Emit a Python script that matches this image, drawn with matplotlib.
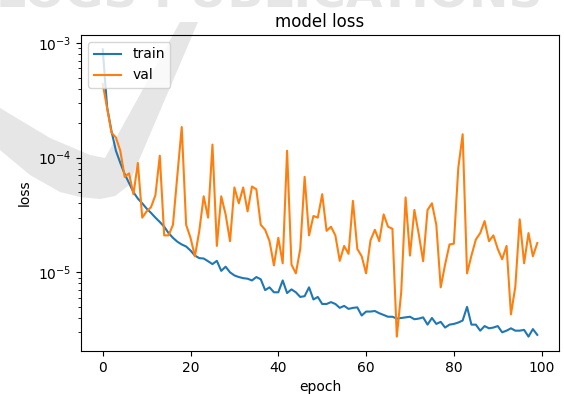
import numpy as np
import matplotlib
matplotlib.use('Agg')
import matplotlib.pyplot as plt
from matplotlib.patches import Polygon

# loss values, one per epoch (0..99)
train_loss = [
    8.8e-4, 2.75e-4, 1.7e-4, 1.15e-4, 9.0e-5, 7.2e-5, 6.0e-5, 5.0e-5, 4.4e-5, 4.0e-5,
    3.6e-5, 3.3e-5, 3.0e-5, 2.75e-5, 2.5e-5, 2.2e-5, 2.0e-5, 1.85e-5, 1.75e-5, 1.68e-5,
    1.55e-5, 1.4e-5, 1.33e-5, 1.32e-5, 1.25e-5, 1.18e-5, 1.26e-5, 1.03e-5, 1.12e-5, 1.0e-5,
    9.4e-6, 9.1e-6, 8.9e-6, 8.8e-6, 8.5e-6, 9.1e-6, 8.7e-6, 7.0e-6, 7.4e-6, 6.7e-6,
    6.7e-6, 8.5e-6, 6.6e-6, 7.1e-6, 6.7e-6, 6.1e-6, 6.2e-6, 7.4e-6, 5.8e-6, 6.1e-6,
    5.3e-6, 5.3e-6, 5.5e-6, 5.3e-6, 4.9e-6, 5.1e-6, 4.8e-6, 4.9e-6, 4.95e-6, 4.2e-6,
    4.55e-6, 4.55e-6, 4.6e-6, 4.4e-6, 4.25e-6, 4.1e-6, 4.1e-6, 3.95e-6, 4.0e-6, 4.05e-6,
    4.1e-6, 3.9e-6, 3.95e-6, 4.05e-6, 3.5e-6, 4.0e-6, 3.55e-6, 3.7e-6, 3.3e-6, 3.5e-6,
    3.55e-6, 3.65e-6, 3.8e-6, 5.0e-6, 3.5e-6, 3.5e-6, 3.1e-6, 3.4e-6, 3.25e-6, 3.3e-6,
    3.4e-6, 3.0e-6, 3.1e-6, 3.25e-6, 3.1e-6, 3.1e-6, 3.15e-6, 2.75e-6, 3.2e-6, 2.85e-6,
]
val_loss = [
    4.4e-4, 2.7e-4, 1.65e-4, 1.5e-4, 1.15e-4, 6.8e-5, 7.3e-5, 4.8e-5, 9.0e-5, 3.0e-5,
    3.4e-5, 3.7e-5, 4.7e-5, 1.04e-4, 2.1e-5, 2.1e-5, 2.6e-5, 7.0e-5, 1.85e-4, 2.6e-5,
    2.0e-5, 1.38e-5, 2.3e-5, 4.6e-5, 3.0e-5, 1.3e-4, 1.7e-5, 4.6e-5, 3.2e-5, 1.87e-5,
    5.5e-5, 4.0e-5, 5.5e-5, 3.4e-5, 5.6e-5, 5.3e-5, 2.6e-5, 2.35e-5, 1.87e-5, 1.15e-5,
    2.0e-5, 1.2e-5, 1.15e-4, 1.17e-5, 9.8e-6, 1.6e-5, 6.8e-5, 2.1e-5, 3.1e-5, 3.0e-5,
    4.8e-5, 2.3e-5, 2.5e-5, 2.1e-5, 1.26e-5, 1.7e-5, 1.45e-5, 4.2e-5, 1.6e-5, 1.38e-5,
    9.8e-6, 1.9e-5, 2.35e-5, 1.87e-5, 3.2e-5, 2.5e-5, 2.4e-5, 2.75e-6, 6.7e-6, 4.5e-5,
    1.4e-5, 3.5e-5, 2.15e-5, 1.25e-5, 3.5e-5, 4.0e-5, 2.6e-5, 7.4e-6, 1.17e-5, 1.75e-5,
    1.78e-5, 8.1e-5, 1.6e-4, 9.8e-6, 1.4e-5, 1.93e-5, 2.2e-5, 2.8e-5, 1.87e-5, 2.1e-5,
    1.6e-5, 1.3e-5, 1.7e-5, 4.3e-6, 7.5e-6, 2.9e-5, 1.2e-5, 2.2e-5, 1.38e-5, 1.8e-5,
]
epochs = np.arange(len(train_loss))

W, H = 564, 394
fig = plt.figure(figsize=(W / 100, H / 100), dpi=100)

# faint publisher watermark behind the plot
wm_color = '#e6e6e6'
check_px = [(0, 108), (50, 138), (90, 155), (105, 158), (180, 22), (198, 22),
            (128, 186), (115, 196), (100, 199), (80, 197), (60, 192), (30, 175), (0, 150)]
check = Polygon([(x / W, 1 - y / H) for x, y in check_px], closed=True,
                facecolor=wm_color, edgecolor='none', transform=fig.transFigure, zorder=-1)
fig.add_artist(check)
fig.text(-4 / W, 1 - 8 / H, 'LOGS PUBLICATIONS', color=wm_color, fontsize=34,
         fontweight='bold', ha='left', va='baseline', zorder=-1)

ax = fig.add_axes([81 / W, 1 - 351 / H, (559 - 81) / W, (351 - 35) / H])
ax.set_facecolor('none')
ax.plot(epochs, train_loss, label='train')
ax.plot(epochs, val_loss, label='val')
ax.set_yscale('log')
ax.set_title('model loss')
ax.set_ylabel('loss')
ax.set_xlabel('epoch')
ax.legend(loc='upper left')

fig.savefig('out.png', dpi=100)
